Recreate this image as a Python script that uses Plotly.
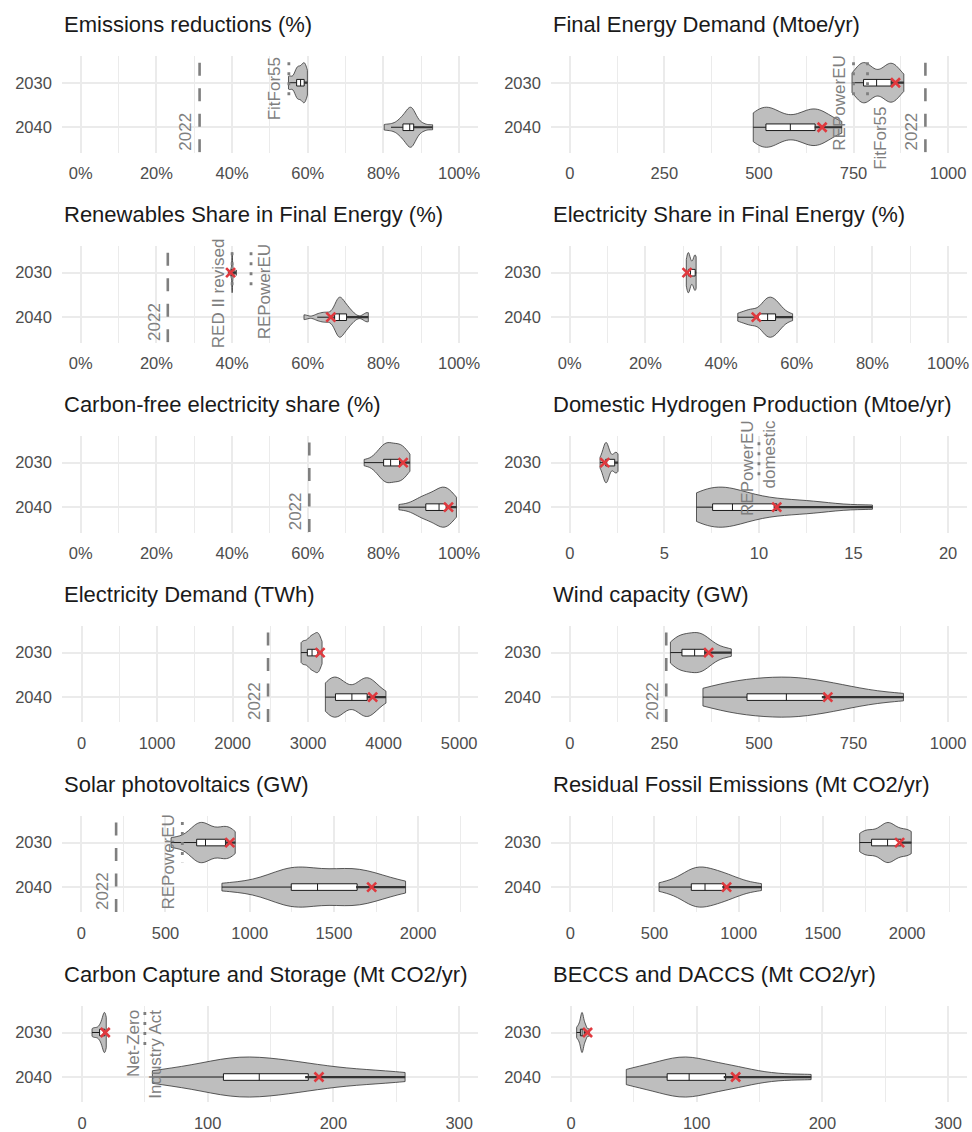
import numpy as np
import plotly.graph_objects as go

# ---------------- data ----------------
YEARS = ["2030", "2040"]

TITLES = [
    "Emissions reductions (%)", "Final Energy Demand (Mtoe/yr)",
    "Renewables Share in Final Energy (%)", "Electricity Share in Final Energy (%)",
    "Carbon-free electricity share (%)", "Domestic Hydrogen Production (Mtoe/yr)",
    "Electricity Demand (TWh)", "Wind capacity (GW)",
    "Solar photovoltaics (GW)", "Residual Fossil Emissions (Mt CO2/yr)",
    "Carbon Capture and Storage (Mt CO2/yr)", "BECCS and DACCS (Mt CO2/yr)",
]

emis_2030 = [54.9, 55.1, 55.3, 56.9, 57.0, 57.1, 57.2, 57.3, 57.5, 58.0, 58.2, 58.7, 58.9, 59.0, 59.0, 59.1, 59.3, 59.4, 59.6, 59.9]
emis_2040 = [80.2, 82.0, 83.5, 84.3, 85.0, 85.3, 85.8, 86.2, 86.6, 86.9, 87.0, 87.2, 87.4, 87.6, 87.9, 88.1, 88.6, 89.5, 90.8, 93.0]
fed_2030 = [746, 760, 768, 772, 775, 778, 781, 784, 790, 800, 822, 835, 842, 846, 848, 851, 855, 859, 866, 883]
fed_2040 = [485, 498, 506, 512, 516, 521, 525, 530, 540, 570, 596, 626, 634, 640, 646, 651, 656, 662, 680, 719]
res_2030 = [39.0, 39.5, 39.7, 39.8, 39.9, 40.0, 40.0, 40.0, 40.0, 40.0, 40.0, 40.1, 40.1, 40.2, 40.3, 40.5, 41.1]
res_2040 = [59.0, 62.5, 64.0, 65.0, 66.5, 67.7, 67.9, 68.0, 68.2, 68.3, 68.4, 68.8, 69.2, 69.6, 70.1, 70.4, 71.0, 72.0, 75.5, 76.0]
els_2030 = [30.8, 31.0, 31.2, 31.3, 31.4, 31.4, 31.5, 31.6, 32.2, 32.6, 33.0, 33.1, 33.2, 33.2, 33.3, 33.4]
els_2040 = [44.4, 46.0, 47.5, 48.2, 48.8, 50.8, 51.2, 51.8, 52.0, 52.2, 52.4, 53.0, 53.5, 53.9, 54.2, 54.6, 55.0, 55.6, 56.8, 58.9]
cfe_2030 = [74.9, 77.5, 78.5, 79.2, 79.8, 80.3, 80.6, 80.9, 81.3, 81.7, 82.1, 82.8, 83.5, 83.9, 84.0, 84.5, 85.2, 85.6, 86.0, 87.0]
cfe_2040 = [84.1, 87.5, 89.0, 90.0, 90.9, 91.5, 92.2, 93.0, 93.8, 94.5, 94.9, 95.3, 95.8, 96.2, 96.4, 96.8, 97.3, 97.9, 98.6, 99.3]
h2_2030 = [1.6, 1.8, 1.85, 1.9, 1.9, 1.92, 1.95, 1.95, 2.0, 2.0, 2.3, 2.4, 2.45, 2.5, 2.55]
h2_2040 = [6.7, 6.9, 7.1, 7.3, 7.5, 7.6, 7.8, 8.0, 8.3, 8.5, 8.7, 9.0, 9.5, 10.0, 10.6, 11.3, 12.0, 12.8, 13.6, 16.0]
eld_2030 = [2907, 2920, 2930, 2940, 2990, 3020, 3035, 3040, 3045, 3060, 3100, 3115, 3125, 3130, 3135, 3140, 3160, 3185]
eld_2040 = [3229, 3260, 3290, 3310, 3345, 3380, 3390, 3405, 3420, 3480, 3680, 3720, 3740, 3760, 3775, 3790, 3810, 3840, 3900, 4031]
wind_2030 = [266, 272, 280, 287, 293, 300, 305, 312, 320, 327, 333, 338, 343, 348, 354, 360, 368, 380, 400, 427]
wind_2040 = [352, 380, 410, 440, 462, 475, 495, 520, 545, 565, 580, 595, 610, 630, 660, 685, 710, 735, 790, 882]
pv_2030 = [533, 560, 640, 670, 680, 690, 700, 710, 720, 730, 745, 760, 780, 840, 852, 860, 868, 874, 882, 914]
pv_2040 = [835, 1000, 1150, 1215, 1238, 1255, 1275, 1292, 1310, 1345, 1460, 1530, 1555, 1580, 1625, 1650, 1680, 1720, 1800, 1925]
fos_2030 = [1718, 1740, 1755, 1765, 1772, 1805, 1860, 1870, 1878, 1882, 1885, 1890, 1895, 1905, 1940, 1990, 2000, 2005, 2010, 2024]
fos_2040 = [527, 600, 650, 690, 712, 725, 740, 755, 770, 790, 810, 830, 850, 875, 895, 925, 950, 985, 1040, 1135]
ccs_2030 = [8, 10, 12, 14, 15, 16, 17, 17.5, 17.8, 18, 18.2, 18.5, 19, 19.3]
ccs_2040 = [56, 70, 85, 100, 110, 115, 120, 125, 130, 137, 145, 152, 160, 168, 175, 185, 200, 215, 235, 257]
cdr_2030 = [4.5, 6, 7, 8, 8.5, 8.7, 9, 9.2, 10, 11, 12, 14.5]
cdr_2040 = [44, 50, 58, 66, 74, 79, 83, 87, 90, 93, 95, 99, 105, 112, 120, 126, 131, 140, 160, 191]

SAMPLES = [
    (emis_2030, emis_2040), (fed_2030, fed_2040), (res_2030, res_2040), (els_2030, els_2040),
    (cfe_2030, cfe_2040), (h2_2030, h2_2040), (eld_2030, eld_2040), (wind_2030, wind_2040),
    (pv_2030, pv_2040), (fos_2030, fos_2040), (ccs_2030, ccs_2040), (cdr_2030, cdr_2040),
]

# red "x" highlighted values per panel (2030, 2040)
HIGHLIGHT = [
    (None, None), (861, 667), (39.6, 66.1), (31.0, 49.3),
    (85.2, 97.2), (1.85, 10.94), (3159, 3855), (367, 682),
    (882, 1724), (1955, 928), (18.5, 188.5), (13.2, 131),
]

# reference values: (label, value, kind) kind: "hist" = 2022 level, "target" = 2030 target
REFS = [
    [("2022", 31.4, "hist"), ("FitFor55", 55, "target")],
    [("REPowerEU", 750, "target"), ("FitFor55", 787, "target"), ("2022", 940, "hist")],
    [("2022", 23.0, "hist"), ("RED II revised", 40, "target"), ("REPowerEU", 45, "target")],
    [],
    [("2022", 60.4, "hist")],
    [("REPowerEU<br>domestic", 10, "target")],
    [("2022", 2470, "hist")],
    [("2022", 255, "hist")],
    [("2022", 207, "hist"), ("REPowerEU", 600, "target")],
    [],
    [("Net-Zero<br>Industry Act", 50, "target")],
    [],
]

# ---------------- layout / style config ----------------
LABEL_PLACE = [
    [("left", "bottom"), ("left", 0.14)],
    [("left", 0.47), ("right", 1.26), ("left", "bottom")],
    [("left", "bottom"), ("left", 0.47), ("right", 0.43)],
    [],
    [("left", "bottom")],
    [("center", 0.12)],
    [("left", "bottom")],
    [("left", "bottom")],
    [("left", "bottom"), ("left", 0.43)],
    [],
    [("center", 0.48)],
    [],
]

AXES = [
    dict(range=[-5, 105], dtick=20, minor=10, pct=True),
    dict(range=[-50, 1050], dtick=250, minor=125),
    dict(range=[-5, 105], dtick=20, minor=10, pct=True),
    dict(range=[-5, 105], dtick=20, minor=10, pct=True),
    dict(range=[-5, 105], dtick=20, minor=10, pct=True),
    dict(range=[-1, 21], dtick=5, minor=2.5),
    dict(range=[-260, 5250], dtick=1000, minor=500),
    dict(range=[-50, 1050], dtick=250, minor=125),
    dict(range=[-115, 2355], dtick=500, minor=250),
    dict(range=[-115, 2355], dtick=500, minor=250),
    dict(range=[-16, 315], dtick=100, minor=50),
    dict(range=[-16, 315], dtick=100, minor=50),
]

W, H = 972, 1132
FONT = "Liberation Sans, Arial, Helvetica, sans-serif"
COL_X = [(62, 479), (552, 969)]
ROW_PITCH = 190.8
PANEL_TOP, PANEL_BOT = 56.7, 153.3
Y_RANGE = [1.57, -0.59]
GRID = "#EBEBEB"
REF_COLOR = "#7F7F7F"
VIOLIN_FILL = "#BEBEBE"
RED = "#E0393E"


def nrd0(a):
    a = np.asarray(a, dtype=float)
    sd = a.std(ddof=1)
    q75, q25 = np.percentile(a, [75, 25])
    lo = min(sd, (q75 - q25) / 1.34)
    if lo <= 0:
        lo = sd if sd > 0 else 1.0
    return 0.9 * lo * len(a) ** -0.2


fig = go.Figure()
annotations = []

for i in range(12):
    r, c = divmod(i, 2)
    ax = "" if i == 0 else str(i + 1)
    xname, yname = "x" + ax, "y" + ax
    x0, x1 = COL_X[c]
    top = PANEL_TOP + ROW_PITCH * r
    bot = PANEL_BOT + ROW_PITCH * r
    cfg = AXES[i]

    # reference lines (drawn first, beneath violins)
    for (lab, val, kind) in REFS[i]:
        if kind == "hist":
            ys = [-0.45, 1.62]
            dash, lw = "13px,12.5px", 2.6
        else:
            ys = [-0.46, 0.44]
            dash, lw = "3px,7px", 2.8
        fig.add_trace(go.Scatter(
            x=[val, val], y=ys, mode="lines", xaxis=xname, yaxis=yname,
            line=dict(color=REF_COLOR, width=lw, dash=dash),
            showlegend=False, hoverinfo="skip"))

    # violins with inner boxes
    for k, samples in enumerate(SAMPLES[i]):
        fig.add_trace(go.Violin(
            x=samples, y0=k, orientation="h", xaxis=xname, yaxis=yname,
            width=0.9, points=False, spanmode="hard", scalemode="width",
            bandwidth=nrd0(samples),
            fillcolor=VIOLIN_FILL, opacity=1,
            line=dict(color="#333333", width=0.8),
            box=dict(visible=True, width=0.165, fillcolor="white",
                     line=dict(color="#1A1A1A", width=1)),
            meanline=dict(visible=False),
            showlegend=False, hoverinfo="skip", name=YEARS[k]))
        # heavier upper whisker (upper quartile to maximum)
        q3 = float(np.percentile(samples, 75))
        fig.add_trace(go.Scatter(
            x=[q3, max(samples)], y=[k, k], mode="lines", xaxis=xname, yaxis=yname,
            line=dict(color="#333333", width=2.2),
            showlegend=False, hoverinfo="skip"))

    # highlighted values
    for k, hv in enumerate(HIGHLIGHT[i]):
        if hv is None:
            continue
        fig.add_trace(go.Scatter(
            x=[hv], y=[k], mode="markers", xaxis=xname, yaxis=yname,
            marker=dict(symbol="x-thin", size=9, line=dict(width=2.6, color=RED)),
            showlegend=False, hoverinfo="skip"))

    # reference labels
    for (lab, val, kind), (side, ypos) in zip(REFS[i], LABEL_PLACE[i]):
        a = dict(text=lab, x=val, xref=xname, yref=yname, textangle=-90,
                 showarrow=False, font=dict(family=FONT, size=17, color=REF_COLOR))
        if side == "left":
            a.update(xanchor="right", xshift=-2)
        elif side == "right":
            a.update(xanchor="left", xshift=2)
        else:
            a.update(xanchor="center", align="right")
        if ypos == "bottom":
            a.update(y=Y_RANGE[0], yanchor="bottom")
        else:
            a.update(y=ypos, yanchor="middle")
        annotations.append(a)

    # panel title
    annotations.append(dict(
        text=TITLES[i], xref="paper", yref="paper", x=x0 / W, xanchor="left",
        y=1 - (ROW_PITCH * r + 25) / H, yanchor="middle", showarrow=False,
        font=dict(family=FONT, size=22, color="#1A1A1A")))

    lo, hi = cfg["range"]
    ticks = list(np.arange(0, hi, cfg["dtick"]))
    if cfg.get("pct"):
        ticktext = [f"{t:g}%" for t in ticks]
    else:
        ticktext = [f"{t:g}" for t in ticks]
    fig.layout["xaxis" + ax] = dict(
        domain=[x0 / W, x1 / W], anchor=yname, range=cfg["range"],
        tickmode="array", tickvals=ticks, ticktext=ticktext,
        showgrid=True, gridcolor=GRID, gridwidth=2, zeroline=False,
        showline=False, ticks="", ticklabelstandoff=9,
        tickfont=dict(family=FONT, size=16.5, color="#4D4D4D"),
        minor=dict(tickmode="linear", tick0=0, dtick=cfg["minor"], showgrid=True,
                   gridcolor=GRID, gridwidth=1, ticks=""),
        fixedrange=True)
    fig.layout["yaxis" + ax] = dict(
        domain=[1 - bot / H, 1 - top / H], anchor=xname, range=Y_RANGE,
        type="linear", tickmode="array", tickvals=[0, 1], ticktext=YEARS,
        showgrid=True, gridcolor=GRID, gridwidth=2, zeroline=False,
        showline=False, ticks="", ticklabelstandoff=9,
        tickfont=dict(family=FONT, size=16.5, color="#4D4D4D"),
        fixedrange=True)

fig.update_layout(
    width=W, height=H, margin=dict(l=0, r=0, t=0, b=0),
    paper_bgcolor="white", plot_bgcolor="white",
    font=dict(family=FONT), annotations=annotations,
    violingap=0, violinmode="overlay",
)

fig.write_html(
    "out.html",
    post_script="document.body.style.margin='0px';document.body.style.padding='0px';",
    config={"displayModeBar": False},
)
